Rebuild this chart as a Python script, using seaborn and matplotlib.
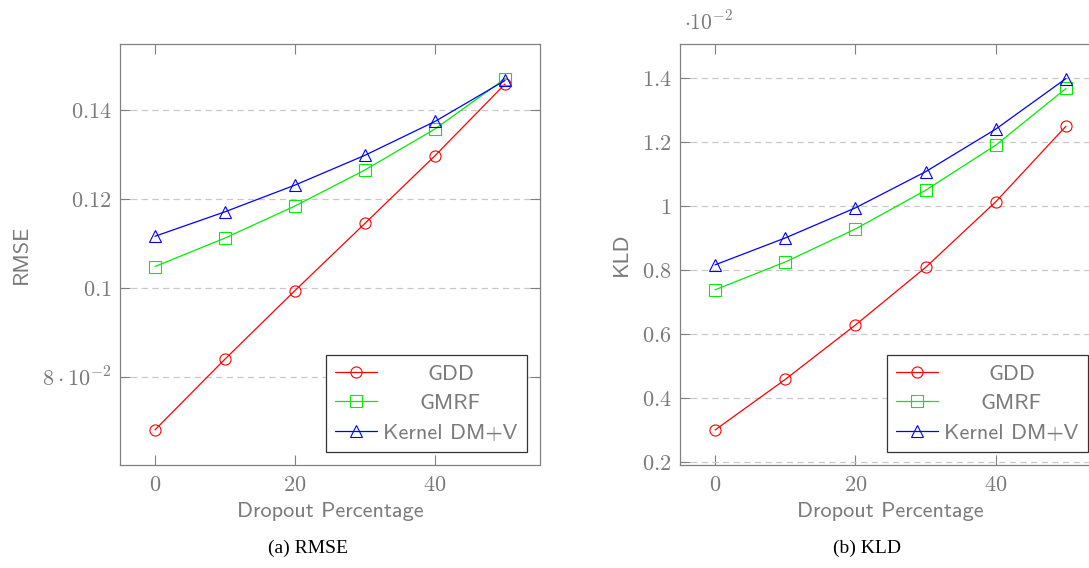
import numpy as np
import pandas as pd
import matplotlib
matplotlib.use("Agg")
import matplotlib.pyplot as plt
import seaborn as sns

# ---------------- data ----------------
dropout = [0, 10, 20, 30, 40, 50]
series_names = ["GDD", "GMRF", "Kernel DM+V"]

rmse_gdd = [0.0681, 0.0840, 0.0994, 0.1145, 0.1297, 0.1458]
rmse_gmrf = [0.1048, 0.1112, 0.1184, 0.1265, 0.1357, 0.1470]
rmse_kernel = [0.1116, 0.1171, 0.1231, 0.1298, 0.1374, 0.1466]

# KLD values in units of 1e-2
kld_gdd = [0.300, 0.458, 0.628, 0.808, 1.013, 1.249]
kld_gmrf = [0.738, 0.825, 0.928, 1.049, 1.190, 1.367]
kld_kernel = [0.816, 0.900, 0.994, 1.107, 1.240, 1.398]

rmse_yticks = [0.08, 0.10, 0.12, 0.14]
rmse_yticklabels = [r"$8\cdot10^{-2}$", r"$0.1$", r"$0.12$", r"$0.14$"]
kld_yticks = [0.2, 0.4, 0.6, 0.8, 1.0, 1.2, 1.4]
kld_yticklabels = [r"$0.2$", r"$0.4$", r"$0.6$", r"$0.8$", r"$1$", r"$1.2$", r"$1.4$"]
xticks = [0, 20, 40]
xticklabels = [r"$0$", r"$20$", r"$40$"]

# ---------------- style ----------------
sns.set_theme(style="white")
plt.rcParams["mathtext.fontset"] = "cm"
plt.rcParams["axes.unicode_minus"] = False

GRAY = "#808080"
TXT = "#7a7a7a"
colors = ["#ff0000", "#00ee00", "#0000ff"]
markers = ["o", "s", "^"]
SANS = "cmss10"

fig = plt.figure(figsize=(10.89, 5.68), dpi=100)
W, H = 1089, 568


def add_axes(x0, y0, x1, y1):
    return fig.add_axes([x0 / W, 1 - y1 / H, (x1 - x0) / W, (y1 - y0) / H])


ax1 = add_axes(120, 44, 540, 465)
ax2 = add_axes(680, 44, 1101, 465)


def draw(ax, data_list, ylim, yticks, yticklabels, ylabel):
    for name, vals, c, m in zip(series_names, data_list, colors, markers):
        df = pd.DataFrame({"x": dropout, "y": vals})
        sns.lineplot(data=df, x="x", y="y", ax=ax, color=c, marker=m,
                     markersize=8, markerfacecolor="none", markeredgecolor=c,
                     markeredgewidth=0.8, linewidth=0.9, label=name,
                     legend=False)
    ax.set_xlim(-5, 55)
    ax.set_ylim(*ylim)
    ax.set_xticks(xticks)
    ax.set_xticklabels(xticklabels)
    ax.set_yticks(yticks)
    ax.set_yticklabels(yticklabels)
    ax.yaxis.grid(True, color="#c8c8c8", linestyle=(0, (5, 3.5)), linewidth=0.9)
    ax.xaxis.grid(False)
    ax.set_axisbelow(True)
    for s in ax.spines.values():
        s.set_color(GRAY)
        s.set_linewidth(0.9)
    ax.tick_params(axis="both", which="major", direction="in", length=7,
                   width=0.8, color=GRAY, labelcolor=TXT, labelsize=16,
                   top=True, right=True, bottom=True, left=True)
    ax.tick_params(axis="y", pad=6)
    ax.tick_params(axis="x", pad=7)
    ax.set_xlabel("Dropout Percentage", family=SANS, fontsize=16, color=TXT,
                  labelpad=5)
    ax.set_ylabel(ylabel, family=SANS, fontsize=16, color=TXT, labelpad=8)

    handles, labels = ax.get_legend_handles_labels()
    leg = ax.legend(handles, labels, loc="lower right", bbox_to_anchor=(1, 0),
                    borderaxespad=0.6, prop={"family": SANS, "size": 16},
                    frameon=True, fancybox=False, framealpha=1,
                    edgecolor="#333333", handlelength=1.9, handletextpad=0.3,
                    borderpad=0.4, labelspacing=0.45, labelcolor=TXT)
    leg.get_frame().set_linewidth(0.9)
    return leg


leg1 = draw(ax1, [rmse_gdd, rmse_gmrf, rmse_kernel], (0.0602, 0.1548),
            rmse_yticks, rmse_yticklabels, "RMSE")
leg2 = draw(ax2, [kld_gdd, kld_gmrf, kld_kernel], (0.1906, 1.506),
            kld_yticks, kld_yticklabels, "KLD")

ax2.text(0.01, 1.025, r"$\cdot10^{-2}$", transform=ax2.transAxes,
         fontsize=15.5, color=TXT, ha="left", va="bottom")

# center legend texts
fig.canvas.draw()
renderer = fig.canvas.get_renderer()
for leg in (leg1, leg2):
    texts = leg.get_texts()
    widths = [t.get_window_extent(renderer).width for t in texts]
    mw = max(widths)
    for t, w in zip(texts, widths):
        t.set_position(((mw - w) / 2, 0))

fig.text(308 / W, 1 - 548 / H, "(a) RMSE", family="Liberation Serif",
         fontsize=14, color="black", ha="center", va="center")
fig.text(867 / W, 1 - 548 / H, "(b) KLD", family="Liberation Serif",
         fontsize=14, color="black", ha="center", va="center")

fig.savefig("out.png", dpi=100)
